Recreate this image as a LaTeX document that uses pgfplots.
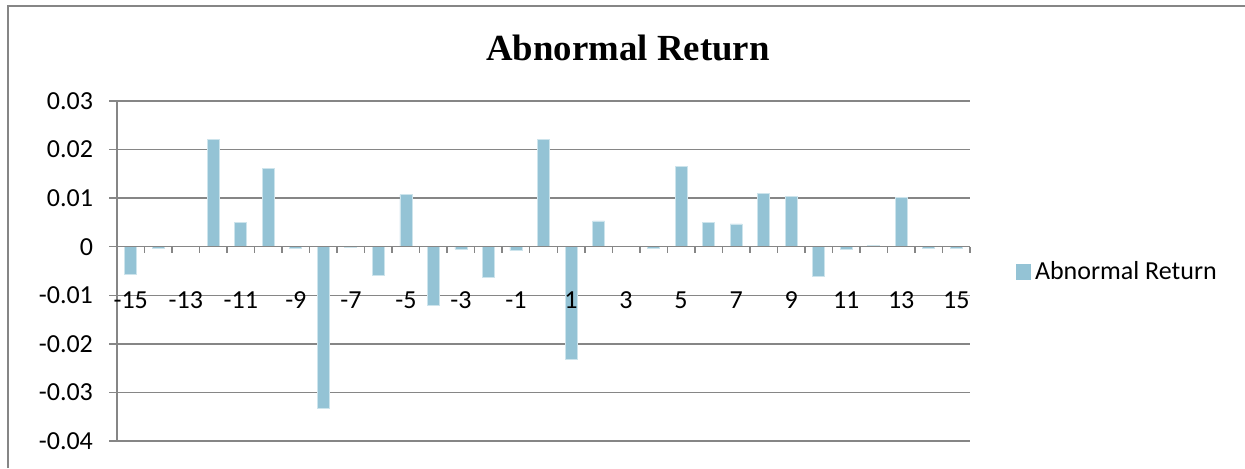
\documentclass[border=0pt]{standalone}
\usepackage{pgfplots}
\pgfplotsset{compat=1.18}
\usepackage{fontspec}
\setmainfont{Carlito}
\newfontfamily\titlefont{Liberation Serif}

\definecolor{barblue}{RGB}{148,195,213}
\definecolor{baredge}{RGB}{205,228,236}
\definecolor{gridgray}{RGB}{134,134,134}

\pgfplotsset{
  arframe/.style={
    at={(58.5pt,13.5pt)}, anchor=south west,
    scale only axis, width=426.5pt, height=170pt,
    font=\fontsize{13}{15}\selectfont,
    xmin=-15.5, xmax=15.5,
    ymin=-0.04, ymax=0.03,
    axis x line*=middle,
    axis y line*=left,
    scaled y ticks=false,
    ytick={-0.04,-0.03,-0.02,-0.01,0,0.01,0.02,0.03},
  },
}

% Daily abnormal returns over the event window [-15, 15]
\pgfplotstableread{
day  ar
-15  -0.0057
-14  -0.0003
-13   0
-12   0.0220
-11   0.0050
-10   0.0162
-9   -0.0003
-8   -0.0333
-7   -0.0002
-6   -0.0058
-5    0.0107
-4   -0.0120
-3   -0.0005
-2   -0.0064
-1   -0.0008
0     0.0220
1    -0.0232
2     0.0053
3     0
4    -0.0003
5     0.0166
6     0.0050
7     0.0047
8     0.0109
9     0.0103
10   -0.0062
11   -0.0006
12    0.0003
13    0.0102
14   -0.0004
15   -0.0003
}\artable

\begin{document}
\begin{tikzpicture}
\useasboundingbox (0,0) rectangle (622.5pt,234pt);
% chart frame
\draw[gridgray, line width=0.75pt] (4pt,0) -- (4pt,231pt) -- (622.5pt,231pt);
% grid, bars, title and legend
\begin{axis}[
  arframe,
  axis line style={draw=none},
  xtick=\empty,
  yticklabels={},
  major y tick style={draw=none},
  ymajorgrids,
  grid style={gridgray, line width=0.75pt},
  title={\titlefont\bfseries\fontsize{18.4}{20}\selectfont Abnormal Return},
  title style={at={(0.599,1.12)}, anchor=center},
  legend style={at={(1.053,0.497)}, anchor=west, draw=none, fill=none,
    inner sep=0pt, font=\fontsize{13}{15}\selectfont},
  legend image code/.code={\fill[barblue] (0pt,-3.65pt) rectangle (7.3pt,3.65pt);},
  legend cell align=left,
]
\addplot[ybar, bar width=6pt, fill=barblue, draw=baredge, line width=0.4pt] table[x=day, y=ar] {\artable};
\addlegendentry{Abnormal Return}
\end{axis}
% axis lines, ticks and tick labels drawn over the bars
\begin{axis}[
  arframe,
  hide obscured x ticks=false,
  hide obscured y ticks=false,
  axis line style={gridgray, line width=0.75pt},
  tick align=outside,
  xtick={-15,-13,-11,-9,-7,-5,-3,-1,1,3,5,7,9,11,13,15},
  xticklabels={-15,-13,-11,-9,-7,-5,-3,-1,1,3,5,7,9,11,13,15},
  major x tick style={draw=none},
  minor xtick={-15.5,-14.5,...,15.5},
  minor x tick style={gridgray, line width=0.75pt},
  minor tick length=3pt,
  xticklabel style={yshift=-15pt},
  yticklabels={-0.04,-0.03,-0.02,-0.01,0,0.01,0.02,0.03},
  yticklabel style={xshift=-4.5pt},
  major tick length=4pt,
  major y tick style={gridgray, line width=0.75pt},
]
\end{axis}
\end{tikzpicture}
\end{document}
